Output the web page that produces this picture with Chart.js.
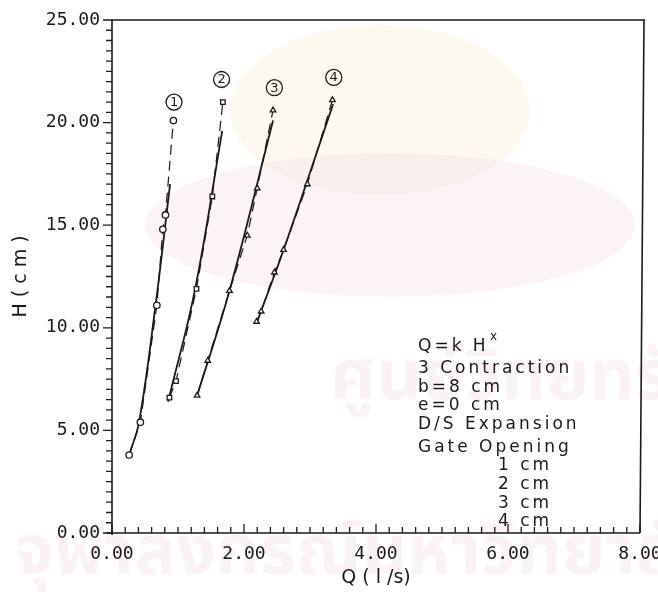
<!DOCTYPE html>
<html>
<head>
<meta charset="utf-8">
<script src="https://cdn.jsdelivr.net/npm/chart.js@4"></script>
<style>
  html, body { margin: 0; padding: 0; background: #fff; }
  #wrap { width: 658px; height: 599px; }
</style>
</head>
<body>
<div id="wrap"><canvas id="rating"></canvas></div>
<script>
// Measured points, gate openings 1..4 cm (Q in l/s, H in cm)
const q1 = [0.26, 0.43, 0.68, 0.77, 0.81, 0.93];
const h1 = [3.8, 5.4, 11.1, 14.8, 15.5, 20.1];
const q2 = [0.87, 0.97, 1.28, 1.52, 1.68];
const h2 = [6.6, 7.4, 11.9, 16.4, 21.0];
const q3 = [1.29, 1.45, 1.78, 2.05, 2.20, 2.44];
const h3 = [6.7, 8.4, 11.8, 14.5, 16.8, 20.6];
const q4 = [2.19, 2.26, 2.46, 2.60, 2.96, 3.34];
const h4 = [10.3, 10.8, 12.7, 13.8, 17.0, 21.1];

// Fitted Q = k H^x curves
const fitQ1 = [0.27, 0.41, 0.66, 0.88];
const fitH1 = [3.9, 5.4, 11.1, 17.0];
const fitQ2 = [0.85, 1.26, 1.67];
const fitH2 = [6.4, 11.9, 19.6];
const fitQ3 = [1.29, 1.78, 2.44];
const fitH3 = [6.7, 11.8, 20.1];
const fitQ4 = [2.20, 2.60, 3.35];
const fitH4 = [10.3, 13.8, 20.9];

// Curve numbers above each line
const tagNames = ['1', '2', '3', '4'];
const tagQ = [0.94, 1.66, 2.46, 3.36];
const tagH = [21.0, 22.1, 21.7, 22.2];

const notes = ['3 Contraction', 'b=8 cm', 'e=0 cm', 'D/S Expansion'];
const gateTitle = 'Gate Opening';
const gateSizes = ['1 cm', '2 cm', '3 cm', '4 cm'];

const ink = '#1a1a1a';
const monoFont = "'DejaVu Sans Mono', monospace";
const textFont = "'DejaVu Sans', sans-serif";

function pairs(xs, ys) {
    return xs.map((x, i) => ({ x: x, y: ys[i] }));
}

function pointSet(xs, ys, style) {
    return {
        data: pairs(xs, ys),
        showLine: true,
        borderColor: ink,
        borderWidth: 1.2,
        borderDash: [10, 6],
        pointStyle: style,
        pointRadius: 3.2,
        pointBackgroundColor: '#fff',
        pointBorderColor: ink,
        pointBorderWidth: 1.3
    };
}

function fitSet(xs, ys) {
    return {
        data: pairs(xs, ys),
        showLine: true,
        tension: 0.4,
        borderColor: ink,
        borderWidth: 1.8,
        pointRadius: 0
    };
}

// faint background stamp of the scanned page
const stamp = {
    id: 'stamp',
    beforeDraw(chart) {
        const ctx = chart.ctx;
        ctx.save();
        ctx.fillStyle = 'rgba(248, 238, 210, 0.35)';
        ctx.beginPath();
        ctx.ellipse(380, 110, 150, 85, 0, 0, Math.PI * 2);
        ctx.fill();
        ctx.fillStyle = 'rgba(246, 214, 230, 0.3)';
        ctx.beginPath();
        ctx.ellipse(390, 225, 245, 72, 0, 0, Math.PI * 2);
        ctx.fill();
        ctx.fillStyle = 'rgba(238, 208, 226, 0.28)';
        ctx.font = "bold 70px 'Noto Sans Thai', 'Noto Sans', sans-serif";
        ctx.textAlign = 'left';
        ctx.textBaseline = 'middle';
        ctx.fillText('ศูนย์วิทยทรัพยากร', 330, 385);
        ctx.fillText('จุฬาลงกรณ์มหาวิทยาลัย', 15, 560);
        ctx.restore();
    }
};

// frame, minor/major ticks, curve tags and the note block
const decor = {
    id: 'decor',
    afterDatasetsDraw(chart) {
        const ctx = chart.ctx;
        const xs = chart.scales.x, ys = chart.scales.y;
        const a = chart.chartArea;
        ctx.save();
        ctx.strokeStyle = ink;
        ctx.lineWidth = 1.6;
        ctx.beginPath();
        ctx.moveTo(a.left, a.top);
        ctx.lineTo(a.right + 5, a.top);
        ctx.moveTo(a.right + 4, a.top);
        ctx.lineTo(a.right, a.bottom);
        ctx.moveTo(a.left, a.top);
        ctx.lineTo(a.left, a.bottom + 2);
        ctx.moveTo(a.left - 5, a.bottom);
        ctx.lineTo(a.right, a.bottom);
        ctx.stroke();

        ctx.lineWidth = 1.3;
        ctx.beginPath();
        for (let i = 0; i <= 50; i++) {
            const py = ys.getPixelForValue(i * 0.5);
            const len = i % 10 === 0 ? 9 : 6;
            ctx.moveTo(a.left - len, py);
            ctx.lineTo(a.left, py);
        }
        for (let i = 0; i <= 40; i++) {
            const px = xs.getPixelForValue(i * 0.2);
            const len = i % 10 === 0 ? 9 : 6;
            ctx.moveTo(px, a.bottom);
            ctx.lineTo(px, a.bottom - len);
        }
        ctx.stroke();

        ctx.fillStyle = ink;
        ctx.textAlign = 'center';
        ctx.textBaseline = 'middle';
        ctx.font = '13px ' + textFont;
        tagNames.forEach((t, i) => {
            const px = xs.getPixelForValue(tagQ[i]);
            const py = ys.getPixelForValue(tagH[i]);
            ctx.beginPath();
            ctx.lineWidth = 1.3;
            ctx.arc(px, py, 8, 0, Math.PI * 2);
            ctx.stroke();
            ctx.fillText(t, px, py + 0.5);
        });

        ctx.textAlign = 'left';
        ctx.textBaseline = 'alphabetic';
        ctx.letterSpacing = '3px';
        ctx.font = '17px ' + textFont;
        const nx = 418;
        ctx.fillText('Q=k H', nx, 351);
        ctx.font = '12px ' + textFont;
        ctx.fillText('x', nx + 72, 340);
        ctx.font = '17px ' + textFont;
        notes.forEach((t, i) => ctx.fillText(t, nx, 373 + i * 18.5));
        ctx.fillText(gateTitle, nx, 452);
        gateSizes.forEach((t, i) => ctx.fillText(t, nx + 80, 470 + i * 18.8));
        ctx.restore();
    }
};

new Chart(document.getElementById('rating'), {
    type: 'scatter',
    data: {
        datasets: [
            pointSet(q1, h1, 'circle'),
            pointSet(q2, h2, 'rect'),
            pointSet(q3, h3, 'triangle'),
            pointSet(q4, h4, 'triangle'),
            fitSet(fitQ1, fitH1),
            fitSet(fitQ2, fitH2),
            fitSet(fitQ3, fitH3),
            fitSet(fitQ4, fitH4)
        ]
    },
    options: {
        responsive: true,
        maintainAspectRatio: false,
        animation: false,
        layout: { padding: { left: 0, top: 20, right: 18, bottom: 0 } },
        plugins: { legend: { display: false }, tooltip: { enabled: false } },
        scales: {
            x: {
                type: 'linear',
                min: 0,
                max: 8,
                grid: { display: false, drawTicks: false },
                border: { display: false },
                ticks: {
                    stepSize: 2,
                    padding: 11,
                    color: ink,
                    font: { family: monoFont, size: 18 },
                    maxRotation: 0,
                    callback: v => v.toFixed(2)
                },
                title: {
                    display: true,
                    text: 'Q ( l /s)',
                    color: ink,
                    padding: { top: 0, bottom: 10 },
                    font: { family: textFont, size: 19 }
                },
                afterFit(s) {
                    s.height = 66;
                    s.paddingLeft = 0;
                    s.paddingRight = 0;
                }
            },
            y: {
                type: 'linear',
                min: 0,
                max: 25,
                grid: { display: false, drawTicks: false },
                border: { display: false },
                ticks: {
                    stepSize: 5,
                    padding: 12,
                    color: ink,
                    font: { family: monoFont, size: 18 },
                    callback: v => v.toFixed(2)
                },
                title: {
                    display: true,
                    text: 'H ( c m )',
                    color: ink,
                    padding: { top: 10, bottom: 0 },
                    font: { family: textFont, size: 19 }
                },
                afterFit(s) {
                    s.width = 112;
                    s.paddingTop = 0;
                    s.paddingBottom = 0;
                }
            }
        }
    },
    plugins: [stamp, decor]
});
</script>
</body>
</html>
